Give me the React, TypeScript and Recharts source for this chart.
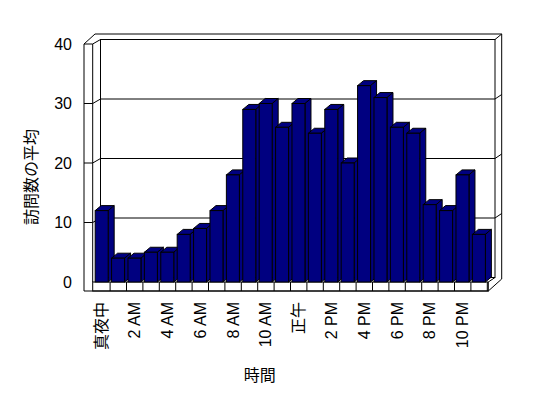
import React from 'react';
import { BarChart, Bar, XAxis, YAxis, Customized } from 'recharts';

const hours = [
  '真夜中', '1 AM', '2 AM', '3 AM', '4 AM', '5 AM', '6 AM', '7 AM', '8 AM', '9 AM', '10 AM', '11 AM',
  '正午', '1 PM', '2 PM', '3 PM', '4 PM', '5 PM', '6 PM', '7 PM', '8 PM', '9 PM', '10 PM', '11 PM',
];
const visits = [12, 4, 4, 5, 5, 8, 9, 12, 18, 29, 30, 26, 30, 25, 29, 20, 33, 31, 26, 25, 13, 12, 18, 8];
const yTicks = [0, 10, 20, 30, 40];
const yTitle = '訪問数の平均';
const xTitle = '時間';

const data = hours.map((h, i) => ({ hour: h, v: visits[i] }));

const W = 540;
const H = 390;
const YW = 60;
const margin = { top: 36, right: 60.7, bottom: 36, left: 25.7 };
const XH = 80;
const P = {
  left: margin.left + YW,
  right: W - margin.right,
  top: margin.top,
  bottom: H - margin.bottom - XH,
};
const YMAX = 40;
const FONT = '"Liberation Sans", "Noto Sans CJK JP", sans-serif';
const NAVY = '#000080';
const DX = 6;
const DY = 5;

const yPos = (v: number) => P.bottom - (v / YMAX) * (P.bottom - P.top);

const Bar3D = (props: any) => {
  const { x, y, width, height } = props;
  if (width == null || height == null) return null;
  return (
    <g stroke="#000" strokeWidth={1} fill={NAVY}>
      <polygon points={`${x},${y} ${x + DX},${y - DY} ${x + width + DX},${y - DY} ${x + width},${y}`} />
      <polygon
        points={`${x + width},${y} ${x + width + DX},${y - DY} ${x + width + DX},${y + height - DY} ${x + width},${y + height}`}
      />
      <rect x={x} y={y} width={width} height={height} />
    </g>
  );
};

const BackWall = () => {
  const L0 = P.left - 9.7;
  const L1 = P.left - 1;
  const BWL = P.left + 6.8;
  const BWR = P.right + 7.7;
  const OR = P.right + 14.4;
  const off = 4.5;
  const grid = yTicks.filter((t) => t > 0 && t < YMAX);
  return (
    <g stroke="#000" strokeWidth={1} fill="none">
      <rect x={BWL} y={P.top - off} width={BWR - BWL} height={P.bottom - P.top} fill="#fff" />
      {grid.map((t) => {
        const y = yPos(t);
        return (
          <polyline
            key={t}
            points={`${L0},${y} ${L1},${y} ${BWL},${y - off} ${BWR},${y - off} ${OR},${y - off - 4.5}`}
          />
        );
      })}
      <polyline points={`${L0},${P.top} ${L1},${P.top} ${BWL},${P.top - off}`} />
      <polyline points={`${L0},${P.top} ${L0 + 11},${P.top - 10} ${OR},${P.top - 10} ${OR},${P.bottom - 3}`} />
      <line x1={BWR} y1={P.top - off} x2={OR} y2={P.top - 10} />
    </g>
  );
};

const FrontFrame = () => {
  const L0 = P.left - 9.7;
  const L1 = P.left - 1;
  const BWR = P.right + 7.7;
  const OR = P.right + 14.4;
  const R = P.right + 1;
  const bw = (P.right - P.left) / hours.length;
  const fb = P.bottom + 9;
  return (
    <g stroke="#000" strokeWidth={1} fill="none">
      <line x1={L0} y1={P.top} x2={L0} y2={fb} />
      <line x1={L1} y1={P.top} x2={L1} y2={P.bottom} />
      <rect x={L1} y={P.bottom} width={R - L1} height={fb - P.bottom} fill="#fff" />
      <line x1={L0} y1={fb} x2={R} y2={fb} />
      <line x1={R} y1={fb} x2={OR} y2={P.bottom - 3} />
      <line x1={R} y1={P.bottom} x2={BWR} y2={P.bottom - 4.5} />
      {hours.map((h, i) => {
        const xx = P.left + (i + 1) * bw;
        return <line key={h} x1={xx} y1={P.bottom} x2={xx} y2={fb} />;
      })}
      <text
        x={0}
        y={0}
        transform={`translate(${P.left - 62},${P.top + 133}) rotate(-90)`}
        textAnchor="middle"
        dominantBaseline="central"
        fontSize={16}
        fontFamily={FONT}
        fill="#000"
        stroke="none"
      >
        {yTitle}
      </text>
      <text
        x={P.left + 166}
        y={P.bottom + 93}
        textAnchor="middle"
        dominantBaseline="central"
        fontSize={16}
        fontFamily={FONT}
        fill="#000"
        stroke="none"
      >
        {xTitle}
      </text>
    </g>
  );
};

const XTick = (props: any) => {
  const { x, payload } = props;
  return (
    <text
      x={0}
      y={0}
      transform={`translate(${x},${P.bottom + 20}) rotate(-90)`}
      textAnchor="end"
      dominantBaseline="central"
      fontSize={16}
      fontFamily={FONT}
      fill="#000"
    >
      {payload.value}
    </text>
  );
};

const YTick = (props: any) => {
  const { y, payload } = props;
  return (
    <text
      x={P.left - 21.7}
      y={y}
      textAnchor="end"
      dominantBaseline="central"
      fontSize={16}
      fontFamily={FONT}
      fill="#000"
    >
      {payload.value}
    </text>
  );
};

export default function App() {
  return (
    <div style={{ width: W, height: H, background: '#fff' }}>
      <BarChart width={W} height={H} data={data} margin={margin} barCategoryGap="9%">
        <Customized component={<BackWall />} />
        <XAxis
          dataKey="hour"
          interval={1}
          tickLine={false}
          axisLine={false}
          height={XH}
          tick={<XTick />}
        />
        <YAxis
          domain={[0, YMAX]}
          ticks={yTicks}
          width={YW}
          tickLine={false}
          axisLine={false}
          tick={<YTick />}
        />
        <Bar dataKey="v" isAnimationActive={false} shape={<Bar3D />} />
        <Customized component={<FrontFrame />} />
      </BarChart>
    </div>
  );
}
